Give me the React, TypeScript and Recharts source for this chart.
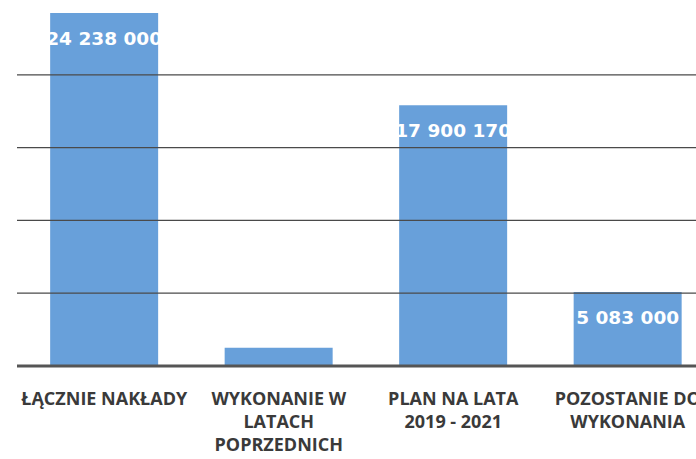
import { BarChart, Bar, XAxis, YAxis, ReferenceLine, LabelList } from 'recharts';

const categories = [
  'ŁĄCZNIE NAKŁADY',
  'WYKONANIE W\nLATACH\nPOPRZEDNICH',
  'PLAN NA LATA\n2019 - 2021',
  'POZOSTANIE DO\nWYKONANIA',
];
const values = [24238000, 1254830, 17900170, 5083000];
const showLabel = [true, false, true, true];
const gridValues = [5000000, 10000000, 15000000, 20000000];

const data = categories.map((name, i) => ({ name, value: values[i] }));

const fmt = (v: number) => String(v).replace(/\B(?=(\d{3})+(?!\d))/g, ' ');

function CategoryTick(props: any) {
  const { x, y, payload } = props;
  const lines = String(payload.value).split('\n');
  return (
    <g transform={`translate(${x},${y})`}>
      {lines.map((line, i) => (
        <text
          key={i}
          x={0}
          y={i * 23}
          dy={31}
          textAnchor="middle"
          fill="#3a3a3a"
          fontSize={18}
          fontWeight={700}
          fontFamily="'Open Sans', sans-serif"
        >
          {line}
        </text>
      ))}
    </g>
  );
}

function ValueLabel(props: any) {
  const { x, y, width, value, index } = props;
  if (!showLabel[index]) return null;
  return (
    <text
      x={x + width / 2}
      y={y + 27}
      textAnchor="middle"
      dominantBaseline="middle"
      fill="#ffffff"
      fontSize={18.5}
      fontWeight={700}
      fontFamily="'DejaVu Sans', sans-serif"
    >
      {fmt(value)}
    </text>
  );
}

export default function App() {
  return (
    <div style={{ position: 'absolute', left: 0, top: 0, width: 696, height: 459, overflow: 'hidden', background: '#fff' }}>
      <BarChart
        width={740}
        height={459}
        data={data}
        margin={{ top: 2, right: 25, bottom: 0, left: 17 }}
        barCategoryGap="19%"
      >
        {gridValues.map((v) => (
          <ReferenceLine key={v} y={v} stroke="#4a4a4a" strokeWidth={1.2} />
        ))}
        <XAxis
          dataKey="name"
          tickLine={false}
          axisLine={{ stroke: '#555', strokeWidth: 3 }}
          tick={<CategoryTick />}
          interval={0}
          height={93}
        />
        <YAxis hide domain={[0, 25000000]} />
        <Bar dataKey="value" fill="#68A0DA" isAnimationActive={false}>
          <LabelList dataKey="value" content={<ValueLabel />} />
        </Bar>
      </BarChart>
    </div>
  );
}
